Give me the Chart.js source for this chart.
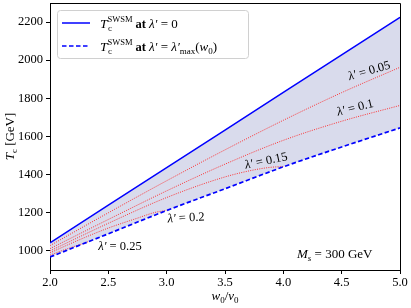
<!DOCTYPE html>
<html>
<head>
<meta charset="utf-8">
<script src="https://cdn.jsdelivr.net/npm/chart.js@4.4.1/dist/chart.umd.min.js"></script>
<style>
  html, body { margin: 0; padding: 0; background: #fff; }
  #wrap { width: 411px; height: 308px; }
</style>
</head>
<body>
<div id="wrap"><canvas id="myChart" width="411" height="308"></canvas></div>
<script>
// w0/v0 grid and T_c values (GeV)
const w0 = [2.0, 2.5, 3.0, 3.5, 4.0, 4.5, 5.0];
const tcLam0 = [1042, 1240, 1437, 1634, 1831, 2028, 2225];
const tcLamMax = [968, 1090, 1212, 1326, 1441, 1545, 1645];

const w005 = [2.0, 2.5, 3.0, 3.5, 4.0, 4.5, 5.0];
const tc005 = [1028, 1200, 1368, 1530, 1685, 1830, 1963];
const w01 = [2.0, 2.5, 3.0, 3.5, 4.0, 4.5, 5.0];
const tc01 = [1012, 1165, 1315, 1455, 1580, 1680, 1763];
const w015 = [2.0, 2.5, 3.0, 3.5, 3.75, 3.9, 4.0];
const tc015 = [1000, 1145, 1280, 1388, 1425, 1439, 1442];
const w02 = [2.0, 2.25, 2.5, 2.75, 2.9, 3.0];
const tc02 = [990, 1058, 1120, 1172, 1202, 1212];
const w025 = [2.0, 2.15, 2.3, 2.36];
const tc025 = [978, 1012, 1042, 1056];

const lamLabels = ['0.05', '0.1', '0.15', '0.2', '0.25'];
const xTicks = [2.0, 2.5, 3.0, 3.5, 4.0, 4.5, 5.0];
const yTicks = [1000, 1200, 1400, 1600, 1800, 2000, 2200];

const SERIF = '"Liberation Serif", "DejaVu Serif", serif';
const BLUE = '#0000ff';
const DOT = 'rgba(255, 30, 30, 0.9)';

function pts(xs, ys) {
    return xs.map((x, i) => ({ x: x, y: ys[i] }));
}

function redCurve(xs, ys) {
    return {
        data: pts(xs, ys),
        borderColor: DOT,
        borderWidth: 1,
        borderDash: [1, 1.3],
        pointRadius: 0,
        fill: false,
        cubicInterpolationMode: 'monotone'
    };
}

function txt(ctx, s, x, y, font) {
    ctx.font = font;
    ctx.fillText(s, x, y);
    return x + ctx.measureText(s).width;
}

// T_c^SWSM
function tcSym(ctx, x, y) {
    x = txt(ctx, 'T', x, y, 'italic 13.5px ' + SERIF);
    txt(ctx, 'c', x + 0.5, y + 3, '9px ' + SERIF);
    return txt(ctx, 'SWSM', x, y - 6.5, '8.5px ' + SERIF);
}

const annotations = {
    id: 'annotations',
    afterDraw(chart) {
        const ctx = chart.ctx;
        const a = chart.chartArea;
        const xs = chart.scales.x, ys = chart.scales.y;
        ctx.save();

        // frame top/right
        ctx.strokeStyle = '#000';
        ctx.lineWidth = 1;
        ctx.beginPath();
        ctx.moveTo(a.left, a.top + 0.5);
        ctx.lineTo(a.right + 0.5, a.top + 0.5);
        ctx.lineTo(a.right + 0.5, a.bottom);
        ctx.stroke();

        ctx.fillStyle = '#000';
        ctx.textBaseline = 'alphabetic';
        ctx.textAlign = 'left';

        // legend
        const lx = a.left + 7, ly = a.top + 7, lw = 191, lh = 48;
        ctx.beginPath();
        ctx.roundRect(lx + 0.5, ly + 0.5, lw, lh, 3);
        ctx.fillStyle = 'rgba(255,255,255,0.85)';
        ctx.fill();
        ctx.strokeStyle = '#d0d0d0';
        ctx.stroke();

        ctx.strokeStyle = BLUE;
        ctx.lineWidth = 1.5;
        ctx.beginPath();
        ctx.moveTo(lx + 5, ly + 13);
        ctx.lineTo(lx + 33, ly + 13);
        ctx.stroke();
        ctx.setLineDash([4.5, 2.5]);
        ctx.lineWidth = 1.7;
        ctx.beginPath();
        ctx.moveTo(lx + 5, ly + 36);
        ctx.lineTo(lx + 33, ly + 36);
        ctx.stroke();
        ctx.setLineDash([]);

        ctx.fillStyle = '#000';
        let x = tcSym(ctx, lx + 43, ly + 18) + 3;
        x = txt(ctx, 'at', x, ly + 18, 'bold 12.5px ' + SERIF) + 3;
        x = txt(ctx, 'λ′', x, ly + 18, 'italic 13px ' + SERIF);
        txt(ctx, ' = 0', x, ly + 18, '13px ' + SERIF);

        x = tcSym(ctx, lx + 43, ly + 41) + 3;
        x = txt(ctx, 'at', x, ly + 41, 'bold 12.5px ' + SERIF) + 3;
        x = txt(ctx, 'λ′', x, ly + 41, 'italic 13px ' + SERIF);
        x = txt(ctx, ' = ', x, ly + 41, '13px ' + SERIF);
        x = txt(ctx, 'λ′', x, ly + 41, 'italic 13px ' + SERIF);
        x = txt(ctx, 'max', x, ly + 44, '9px ' + SERIF);
        x = txt(ctx, '(', x, ly + 41, '13px ' + SERIF);
        x = txt(ctx, 'w', x, ly + 41, 'italic 13px ' + SERIF);
        x = txt(ctx, '0', x, ly + 44, '9px ' + SERIF);
        txt(ctx, ')', x, ly + 41, '13px ' + SERIF);

        // curve labels (placed in data coords)
        const place = [
            { w: 4.734, t: 1949, rot: -16 },
            { w: 4.614, t: 1755, rot: -14 },
            { w: 3.851, t: 1477, rot: -12 },
            { w: 3.166, t: 1178, rot: -3 },
            { w: 2.600, t: 1031, rot: 0 }
        ];
        place.forEach((p, i) => {
            const px = xs.getPixelForValue(p.w), py = ys.getPixelForValue(p.t);
            ctx.save();
            ctx.translate(px, py);
            ctx.rotate(p.rot * Math.PI / 180);
            ctx.font = 'italic 12.5px ' + SERIF;
            const s1 = 'λ′';
            const s2 = ' = ' + lamLabels[i];
            const w1 = ctx.measureText(s1).width;
            ctx.font = '12.5px ' + SERIF;
            const w2 = ctx.measureText(s2).width;
            let tx = -(w1 + w2) / 2;
            tx = txt(ctx, s1, tx, 4.5, 'italic 12.5px ' + SERIF);
            txt(ctx, s2, tx, 4.5, '12.5px ' + SERIF);
            ctx.restore();
        });

        // M_s = 300 GeV
        x = txt(ctx, 'M', a.right - 103, a.bottom - 12, 'italic 13px ' + SERIF);
        x = txt(ctx, 's', x, a.bottom - 9, 'italic 9px ' + SERIF);
        txt(ctx, ' = 300 GeV', x, a.bottom - 12, '13px ' + SERIF);

        // x title w0/v0
        ctx.font = 'italic 13px ' + SERIF;
        const ww = ctx.measureText('w').width, vw = ctx.measureText('v').width;
        ctx.font = '9px ' + SERIF;
        const zw = ctx.measureText('0').width;
        ctx.font = '13px ' + SERIF;
        const sw = ctx.measureText('/').width;
        const tot = ww + zw + sw + vw + zw;
        x = (a.left + a.right) / 2 - tot / 2;
        const by = a.bottom + 30;
        x = txt(ctx, 'w', x, by, 'italic 13px ' + SERIF);
        x = txt(ctx, '0', x, by + 3, '9px ' + SERIF);
        x = txt(ctx, '/', x, by, '13px ' + SERIF);
        x = txt(ctx, 'v', x, by, 'italic 13px ' + SERIF);
        txt(ctx, '0', x, by + 3, '9px ' + SERIF);

        // y title T_c [GeV]
        ctx.save();
        ctx.translate(14, (a.top + a.bottom) / 2);
        ctx.rotate(-Math.PI / 2);
        ctx.font = 'italic 13px ' + SERIF;
        const tw = ctx.measureText('T').width;
        ctx.font = '9px ' + SERIF;
        const cw = ctx.measureText('c').width;
        ctx.font = '13px ' + SERIF;
        const gw = ctx.measureText(' [GeV]').width;
        x = -(tw + cw + gw) / 2;
        x = txt(ctx, 'T', x, 0, 'italic 13px ' + SERIF);
        x = txt(ctx, 'c', x, 3, '9px ' + SERIF);
        txt(ctx, ' [GeV]', x, 0, '13px ' + SERIF);
        ctx.restore();

        ctx.restore();
    }
};

const data = {
    datasets: [
        {
            data: pts(w0, tcLam0),
            borderColor: BLUE,
            borderWidth: 1.5,
            pointRadius: 0,
            fill: { target: 1, above: 'rgb(217, 219, 236)', below: 'rgb(217, 219, 236)' }
        },
        {
            data: pts(w0, tcLamMax),
            borderColor: BLUE,
            borderWidth: 1.7,
            borderDash: [4.5, 2.5],
            pointRadius: 0,
            fill: false,
            cubicInterpolationMode: 'monotone'
        },
        redCurve(w005, tc005),
        redCurve(w01, tc01),
        redCurve(w015, tc015),
        redCurve(w02, tc02),
        redCurve(w025, tc025)
    ]
};

const config = {
    type: 'line',
    data: data,
    options: {
        responsive: false,
        animation: false,
        devicePixelRatio: 1,
        layout: { padding: { top: 3, right: 11, left: 0, bottom: 0 } },
        plugins: {
            legend: { display: false },
            tooltip: { enabled: false },
            filler: { drawTime: 'beforeDatasetsDraw' }
        },
        scales: {
            x: {
                type: 'linear',
                min: 2.0,
                max: 5.0,
                afterBuildTicks: (s) => { s.ticks = xTicks.map(v => ({ value: v })); },
                afterFit: (s) => { s.height = 38; s.paddingLeft = 0; s.paddingRight = 0; },
                ticks: {
                    color: '#000',
                    padding: 1,
                    maxRotation: 0,
                    font: { family: SERIF, size: 12.5 },
                    callback: (v) => v.toFixed(1)
                },
                grid: { drawOnChartArea: false, drawTicks: true, tickLength: 4, color: '#000' },
                border: { display: true, color: '#000', width: 1 }
            },
            y: {
                type: 'linear',
                min: 900,
                max: 2300,
                afterBuildTicks: (s) => { s.ticks = yTicks.map(v => ({ value: v })); },
                afterFit: (s) => { s.width = 50; s.paddingTop = 0; s.paddingBottom = 0; },
                ticks: {
                    color: '#000',
                    padding: 3,
                    font: { family: SERIF, size: 12.5 },
                    callback: (v) => String(v)
                },
                grid: { drawOnChartArea: false, drawTicks: true, tickLength: 4, color: '#000' },
                border: { display: true, color: '#000', width: 1 }
            }
        }
    },
    plugins: [annotations]
};

const myChart = new Chart(document.getElementById('myChart').getContext('2d'), config);
</script>
</body>
</html>
